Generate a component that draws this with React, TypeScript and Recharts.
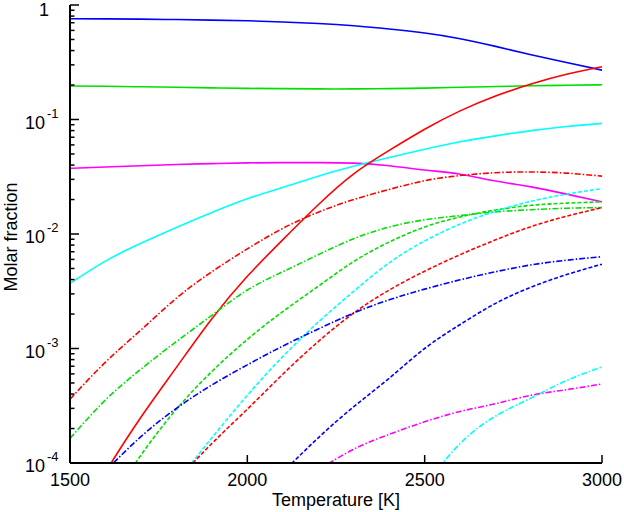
import React from "react";
import { LineChart, Line, XAxis, YAxis } from "recharts";

// Temperature grid [K]
const temps = [1500, 1600, 1700, 1800, 1900, 2000, 2100, 2200, 2300, 2400, 2500, 2600, 2700, 2800, 2900, 3000];

// Molar fractions
const blueSolid = [0.758, 0.756, 0.752, 0.746, 0.738, 0.728, 0.711, 0.689, 0.658, 0.617, 0.569, 0.508, 0.435, 0.368, 0.315, 0.27];
const greenSolid = [0.196, 0.195, 0.193, 0.191, 0.189, 0.187, 0.186, 0.185, 0.185, 0.186, 0.188, 0.191, 0.194, 0.197, 0.199, 0.201];
const magentaSolid = [0.0375, 0.0385, 0.0395, 0.0405, 0.0412, 0.0418, 0.042, 0.042, 0.0416, 0.0395, 0.0362, 0.0333, 0.029, 0.0258, 0.0223, 0.0191];
const cyanSolid = [0.0037, 0.0058, 0.0083, 0.0114, 0.0154, 0.0203, 0.0255, 0.032, 0.039, 0.0465, 0.055, 0.064, 0.072, 0.08, 0.087, 0.0926];
const redSolid = [2.51e-5, 8.32e-5, 2.51e-4, 6.84e-4, 1.82e-3, 4.27e-3, 8.91e-3, 0.018, 0.0335, 0.0537, 0.0822, 0.1189, 0.1603, 0.2042, 0.2483, 0.2891];
const redDashDot = [3.6e-4, 7.6e-4, 1.45e-3, 2.75e-3, 4.68e-3, 7.41e-3, 0.0112, 0.0155, 0.02, 0.0245, 0.0292, 0.0324, 0.0343, 0.0348, 0.034, 0.032];
const greenDashDot = [1.64e-4, 3.55e-4, 6.6e-4, 1.15e-3, 1.95e-3, 3.24e-3, 4.68e-3, 6.6e-3, 9.1e-3, 0.0115, 0.0133, 0.0145, 0.0156, 0.0163, 0.0168, 0.017];
const greenDashed = [null, 4e-5, 1.17e-4, 2.95e-4, 6.3e-4, 1.2e-3, 2.1e-3, 3.5e-3, 5.75e-3, 8.5e-3, 0.0115, 0.0141, 0.0162, 0.0178, 0.0186, 0.0191];
const cyanDashed = [null, null, null, 6.8e-5, 1.66e-4, 3.9e-4, 8.5e-4, 1.7e-3, 3.16e-3, 5.6e-3, 8.7e-3, 0.0122, 0.0158, 0.0193, 0.0223, 0.0249];
const redDashed = [null, null, null, 7e-5, 1.48e-4, 2.95e-4, 5.96e-4, 1.15e-3, 2.04e-3, 3.24e-3, 4.73e-3, 6.6e-3, 8.9e-3, 0.0116, 0.0143, 0.017];
const blueDashDot = [null, 8.5e-5, 1.7e-4, 3.0e-4, 4.8e-4, 7.2e-4, 1.05e-3, 1.48e-3, 2.04e-3, 2.66e-3, 3.3e-3, 3.98e-3, 4.68e-3, 5.37e-3, 5.9e-3, 6.34e-3];
const blueDashed = [null, null, null, null, null, null, 8.3e-5, 1.66e-4, 3.1e-4, 5.5e-4, 1.0e-3, 1.62e-3, 2.48e-3, 3.43e-3, 4.42e-3, 5.45e-3];
const magentaDashDot = [null, null, null, null, null, null, null, 8.7e-5, 1.32e-4, 1.78e-4, 2.29e-4, 2.82e-4, 3.3e-4, 3.9e-4, 4.37e-4, 4.9e-4];
const cyanDashDot = [null, null, null, null, null, null, null, null, null, null, 6.3e-5, 1.48e-4, 2.57e-4, 3.7e-4, 5.25e-4, 6.9e-4];

// Axis ticks and labels
const xTicks = [1500, 2000, 2500, 3000];
const xTickLabels = ["1500", "2000", "2500", "3000"];
const yMajorTicks = [1e-4, 1e-3, 1e-2, 1e-1, 1];
const yMajorExps = ["-4", "-3", "-2", "-1", ""];
const yMinorSteps = [2, 3, 4, 5, 6, 7, 8, 9];
const xTitle = "Temperature [K]";
const yTitle = "Molar fraction";

const DASH = "4 2";
const DASHDOT = "6 2 1.5 2";

const seriesDefs = [
  { key: "blueSolid", values: blueSolid, color: "#0000ff", dash: undefined },
  { key: "greenSolid", values: greenSolid, color: "#00e000", dash: undefined },
  { key: "magentaSolid", values: magentaSolid, color: "#ff00ff", dash: undefined },
  { key: "cyanSolid", values: cyanSolid, color: "#00ffff", dash: undefined },
  { key: "redSolid", values: redSolid, color: "#ff0000", dash: undefined },
  { key: "redDashDot", values: redDashDot, color: "#ff0000", dash: DASHDOT },
  { key: "greenDashDot", values: greenDashDot, color: "#00e000", dash: DASHDOT },
  { key: "greenDashed", values: greenDashed, color: "#00e000", dash: DASH },
  { key: "cyanDashed", values: cyanDashed, color: "#00ffff", dash: DASH },
  { key: "redDashed", values: redDashed, color: "#ff0000", dash: DASH },
  { key: "blueDashDot", values: blueDashDot, color: "#0000ff", dash: DASHDOT },
  { key: "blueDashed", values: blueDashed, color: "#0000ff", dash: DASH },
  { key: "magentaDashDot", values: magentaDashDot, color: "#ff00ff", dash: DASHDOT },
  { key: "cyanDashDot", values: cyanDashDot, color: "#00ffff", dash: DASHDOT },
];

const rows = temps.map((t, i) => {
  const r: Record<string, number | null> = { T: t };
  seriesDefs.forEach((s) => {
    r[s.key] = s.values[i];
  });
  return r;
});

const yTicks: number[] = [];
yMajorTicks.forEach((m, i) => {
  yTicks.push(m);
  if (i < yMajorTicks.length - 1) yMinorSteps.forEach((k) => yTicks.push(m * k));
});

const W = 624;
const H = 512;
const PLOT_LEFT = 70;
const PLOT_RIGHT = 602;
const PLOT_TOP = 5;
const PLOT_BOTTOM = 463;
const FONT = "'Liberation Sans', Arial, Helvetica, sans-serif";
const MAJOR = 9;
const MINOR = 4.5;

const isMajor = (v: number) => {
  const l = Math.log10(v);
  return Math.abs(l - Math.round(l)) < 1e-6;
};

const LeftTick = (props: any) => {
  const { y, payload } = props;
  const v = payload.value;
  const major = isMajor(v);
  const idx = yMajorTicks.findIndex((m) => Math.abs(Math.log10(m) - Math.log10(v)) < 1e-6);
  return (
    <g>
      <line x1={PLOT_LEFT} x2={PLOT_LEFT + (major ? MAJOR : MINOR)} y1={y} y2={y} stroke="#000" strokeWidth={1.5} />
      {major && idx >= 0 && (yMajorExps[idx] === "" ? (
        <text x={44} y={y + 11} fontSize={18} fontFamily={FONT} textAnchor="middle" fill="#000">1</text>
      ) : (
        <text x={25} y={y + 9} fontSize={18} fontFamily={FONT} textAnchor="start" fill="#000">
          10<tspan dx={2} dy={-11} fontSize={13}>{yMajorExps[idx]}</tspan>
        </text>
      ))}
    </g>
  );
};

const RightTick = (props: any) => {
  const { y, payload } = props;
  const major = isMajor(payload.value);
  return (
    <line x1={PLOT_RIGHT} x2={PLOT_RIGHT - (major ? MAJOR : MINOR)} y1={y} y2={y} stroke="#000" strokeWidth={1.5} />
  );
};

const BottomTick = (props: any) => {
  const { x, payload } = props;
  const idx = xTicks.indexOf(payload.value);
  return (
    <g>
      <line x1={x} x2={x} y1={PLOT_BOTTOM} y2={PLOT_BOTTOM - 8} stroke="#000" strokeWidth={1.5} />
      <text x={x} y={486} fontSize={18} fontFamily={FONT} textAnchor="middle" fill="#000">
        {idx >= 0 ? xTickLabels[idx] : ""}
      </text>
    </g>
  );
};

const TopTick = (props: any) => {
  const { x } = props;
  return <line x1={x} x2={x} y1={PLOT_TOP} y2={PLOT_TOP + 8} stroke="#000" strokeWidth={1.5} />;
};

const XTitle = () => (
  <text x={336} y={506} fontSize={18} fontFamily={FONT} textAnchor="middle" fill="#000">
    {xTitle}
  </text>
);

const YTitle = () => (
  <text x={17} y={237} fontSize={18} fontFamily={FONT} textAnchor="middle" fill="#000" transform="rotate(-90, 17, 237)">
    {yTitle}
  </text>
);

export default function App() {
  return (
    <div style={{ width: W, height: H, background: "#fff" }}>
      <style>{"body{margin:0;background:#fff}"}</style>
      <LineChart width={W} height={H} data={rows} margin={{ top: PLOT_TOP, right: W - PLOT_RIGHT, bottom: 0, left: 0 }}>
        <XAxis
          xAxisId="bottom"
          dataKey="T"
          type="number"
          domain={[1500, 3000]}
          ticks={xTicks}
          interval={0}
          allowDataOverflow
          height={H - PLOT_BOTTOM}
          axisLine={{ stroke: "#000", strokeWidth: 2 }}
          tickLine={false}
          tick={<BottomTick />}
          label={() => <XTitle />}
        />
        <XAxis
          xAxisId="top"
          orientation="top"
          dataKey="T"
          type="number"
          domain={[1500, 3000]}
          ticks={[2000, 2500]}
          interval={0}
          allowDataOverflow
          height={0}
          axisLine={{ stroke: "#000", strokeWidth: 2 }}
          tickLine={false}
          tick={<TopTick />}
        />
        <YAxis
          yAxisId="left"
          type="number"
          scale="log"
          domain={[1e-4, 1]}
          ticks={yTicks}
          interval={0}
          allowDataOverflow
          width={PLOT_LEFT}
          axisLine={{ stroke: "#000", strokeWidth: 2 }}
          tickLine={false}
          tick={<LeftTick />}
          label={() => <YTitle />}
        />
        <YAxis
          yAxisId="right"
          orientation="right"
          type="number"
          scale="log"
          domain={[1e-4, 1]}
          ticks={yTicks}
          interval={0}
          allowDataOverflow
          width={0}
          axisLine={{ stroke: "#000", strokeWidth: 2 }}
          tickLine={false}
          tick={<RightTick />}
        />
        {seriesDefs.map((s) => (
          <Line
            key={s.key}
            xAxisId="bottom"
            yAxisId="left"
            dataKey={s.key}
            type="natural"
            stroke={s.color}
            strokeWidth={1.6}
            strokeDasharray={s.dash}
            dot={false}
            activeDot={false}
            isAnimationActive={false}
          />
        ))}
      </LineChart>
    </div>
  );
}
